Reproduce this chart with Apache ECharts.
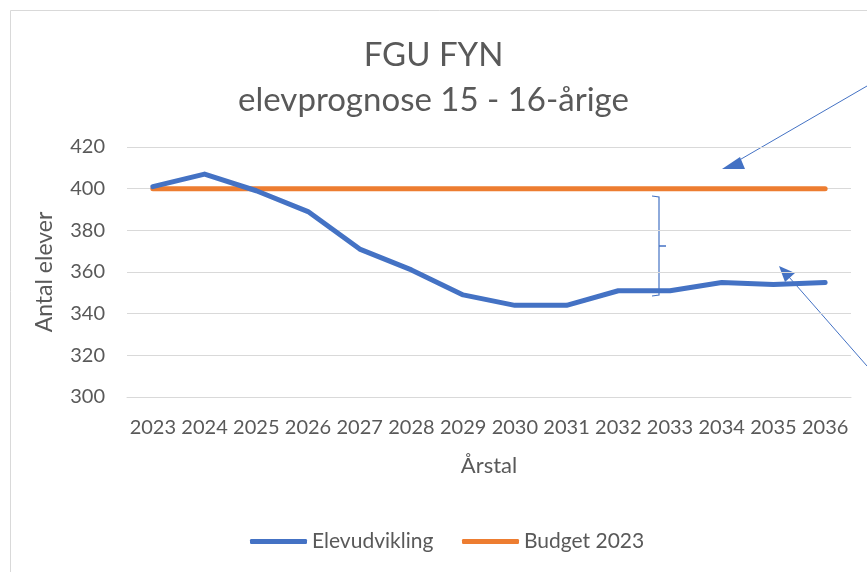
<!DOCTYPE html>
<html><head><meta charset="utf-8">
<script src="https://cdn.jsdelivr.net/npm/echarts@6/dist/echarts.min.js"></script>
<style>html,body{margin:0;padding:0;background:#fff}#c{width:867px;height:572px}</style>
</head><body><div id="c"></div>
<script>
const years = ['2023','2024','2025','2026','2027','2028','2029','2030','2031','2032','2033','2034','2035','2036'];
const elevudvikling = [401,407,399,389,371,361,349,344,344,351,351,355,354,355];
const budget2023 = [400,400,400,400,400,400,400,400,400,400,400,400,400,400];
const seriesNames = ['Elevudvikling','Budget 2023'];
const titleLines = ['FGU FYN','elevprognose 15 - 16-årige'];
const yMin = 300, yMax = 420, yStep = 20;

const FONT = 'Lato';
const TXT = '#595959';
const BLUE = '#4472C4', ORANGE = '#ED7D31';

const chart = echarts.init(document.getElementById('c'), null, {renderer:'canvas'});
chart.setOption({
  animation:false,
  backgroundColor:'#fff',
  textStyle:{fontFamily:FONT},
  title:[
    {text:titleLines[0], left:'center', top:34, textStyle:{fontFamily:FONT,fontSize:33,fontWeight:'normal',color:TXT}},
    {text:titleLines[1], left:'center', top:79, textStyle:{fontFamily:FONT,fontSize:33,fontWeight:'normal',color:TXT}}
  ],
  legend:[
    {data:[seriesNames[0]], left:245, top:526, itemWidth:57, itemHeight:5, icon:'roundRect',
     textStyle:{fontFamily:FONT,fontSize:21,color:TXT}},
    {data:[seriesNames[1]], left:457, top:526, itemWidth:57, itemHeight:5, icon:'roundRect',
     textStyle:{fontFamily:FONT,fontSize:21,color:TXT}}
  ],
  grid:{left:127, right:16, top:147, bottom:175},
  xAxis:{type:'category', data:years, boundaryGap:true,
    axisLine:{show:true,lineStyle:{color:'#d9d9d9',width:1}}, axisTick:{show:false},
    axisLabel:{color:TXT,fontSize:20,fontFamily:FONT,margin:21,interval:0},
    name:'Årstal', nameLocation:'middle', nameGap:58,
    nameTextStyle:{color:TXT,fontSize:22,fontFamily:FONT}},
  yAxis:{type:'value', min:yMin, max:yMax, interval:yStep,
    axisLine:{show:false}, axisTick:{show:false},
    splitLine:{lineStyle:{color:'#d9d9d9',width:1}},
    axisLabel:{color:TXT,fontSize:20,fontFamily:FONT,margin:22},
    name:'Antal elever', nameLocation:'middle', nameGap:71,
    nameTextStyle:{color:TXT,fontSize:23,fontFamily:FONT}},
  series:[
    {name:seriesNames[0], type:'line', data:elevudvikling, color:BLUE, symbol:'none', z:3,
     lineStyle:{width:5,color:BLUE,cap:'round',join:'round'}},
    {name:seriesNames[1], type:'line', data:budget2023, color:ORANGE, symbol:'none', z:2,
     lineStyle:{width:5,color:ORANGE,cap:'round',join:'round'}}
  ],
  graphic:[
    {type:'rect', shape:{x:10.5,y:10.5,width:1000,height:1000}, style:{fill:null,stroke:'#d9d9d9',lineWidth:1}, z:-10, silent:true},
    {type:'line', shape:{x1:867,y1:86,x2:736,y2:162}, style:{stroke:BLUE,lineWidth:1}},
    {type:'polygon', shape:{points:[[722,169],[740,157],[745,169]]}, style:{fill:BLUE}},
    {type:'line', shape:{x1:867,y1:366,x2:789,y2:277}, style:{stroke:BLUE,lineWidth:1}},
    {type:'polygon', shape:{points:[[779,266],[795,273],[785,282]]}, style:{fill:BLUE}},
    {type:'polyline', shape:{points:[[652,196],[659,197],[659,295],[652,296]]}, style:{stroke:BLUE,lineWidth:1.2,fill:null}},
    {type:'line', shape:{x1:659,y1:246,x2:666,y2:246}, style:{stroke:BLUE,lineWidth:1.5}}
  ]
});
</script></body></html>
